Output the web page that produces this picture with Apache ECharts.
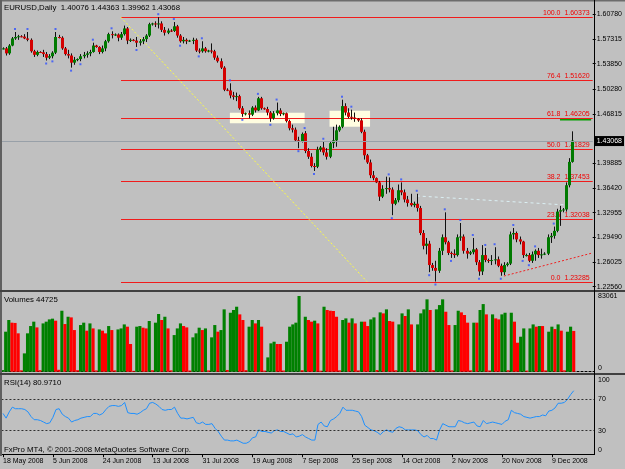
<!DOCTYPE html>
<html lang="en">
<head>
<meta charset="UTF-8">
<title>EURUSD,Daily</title>
<style>
  html, body { margin: 0; padding: 0; background: #c0c0c0; }
  #main { width: 625px; height: 469px; }
</style>
</head>
<body>
<div id="main"></div>
<script src="https://cdn.jsdelivr.net/npm/echarts@6/dist/echarts.min.js"></script>
<script>
const MONTHS = ['Jan','Feb','Mar','Apr','May','Jun','Jul','Aug','Sep','Oct','Nov','Dec'];

// one slot per broker day (Sun-Fri); the last six slots are the empty chart shift
const dates = [];
for (let d = new Date(Date.UTC(2008, 4, 18)); dates.length < 190; d.setUTCDate(d.getUTCDate() + 1)) {
  if (d.getUTCDay() !== 6) dates.push(d.getUTCDate() + ' ' + MONTHS[d.getUTCMonth()] + ' ' + d.getUTCFullYear());
}
const dateTicks = ['18 May 2008','5 Jun 2008','24 Jun 2008','13 Jul 2008','31 Jul 2008','19 Aug 2008',
  '7 Sep 2008','25 Sep 2008','14 Oct 2008','2 Nov 2008','20 Nov 2008','9 Dec 2008'];
const priceTicks = [1.60780,1.57315,1.53850,1.50280,1.46815,1.39885,1.36420,1.32955,1.29490,1.26025,1.22560];
const rsiTicks = [0, 30, 70, 100];
const rsiLevels = [70, 30];

// daily bars: open, high, low, close
const ohlc = [
[1.5590,1.5615,1.5585,1.5600],[1.5600,1.5620,1.5500,1.5530],[1.5530,1.5660,1.5510,1.5640],[1.5640,1.5760,1.5630,1.5740],
[1.5740,1.5830,1.5720,1.5760],[1.5760,1.5790,1.5720,1.5770],[1.5770,1.5785,1.5755,1.5765],[1.5765,1.5800,1.5730,1.5740],
[1.5740,1.5830,1.5700,1.5720],[1.5720,1.5740,1.5540,1.5560],[1.5560,1.5580,1.5480,1.5510],[1.5510,1.5570,1.5490,1.5550],
[1.5550,1.5560,1.5535,1.5545],[1.5545,1.5580,1.5480,1.5520],[1.5520,1.5550,1.5430,1.5470],[1.5470,1.5520,1.5450,1.5490],
[1.5490,1.5560,1.5460,1.5540],[1.5540,1.5830,1.5520,1.5760],[1.5760,1.5790,1.5740,1.5750],[1.5750,1.5770,1.5580,1.5600],
[1.5600,1.5620,1.5500,1.5520],[1.5520,1.5580,1.5460,1.5500],[1.5500,1.5530,1.5330,1.5400],[1.5400,1.5480,1.5370,1.5440],
[1.5440,1.5460,1.5420,1.5450],[1.5450,1.5520,1.5420,1.5490],[1.5490,1.5550,1.5460,1.5510],[1.5510,1.5560,1.5470,1.5530],
[1.5530,1.5580,1.5490,1.5550],[1.5550,1.5680,1.5540,1.5640],[1.5640,1.5650,1.5610,1.5620],[1.5620,1.5630,1.5520,1.5550],
[1.5550,1.5640,1.5530,1.5600],[1.5600,1.5720,1.5560,1.5700],[1.5700,1.5820,1.5680,1.5800],[1.5800,1.5840,1.5740,1.5790],
[1.5790,1.5810,1.5775,1.5795],[1.5795,1.5810,1.5700,1.5750],[1.5750,1.5830,1.5720,1.5800],[1.5800,1.5920,1.5780,1.5880],
[1.5880,1.5900,1.5660,1.5710],[1.5710,1.5740,1.5690,1.5720],[1.5720,1.5730,1.5700,1.5710],[1.5710,1.5760,1.5620,1.5680],
[1.5680,1.5730,1.5640,1.5700],[1.5700,1.5760,1.5660,1.5730],[1.5730,1.5800,1.5690,1.5780],[1.5780,1.5960,1.5760,1.5940],
[1.5940,1.5960,1.5920,1.5950],[1.5950,1.5980,1.5900,1.5940],[1.5940,1.6038,1.5880,1.5950],[1.5950,1.5980,1.5830,1.5860],
[1.5860,1.5900,1.5780,1.5820],[1.5820,1.5880,1.5800,1.5850],[1.5850,1.5870,1.5830,1.5845],[1.5845,1.5970,1.5830,1.5910],
[1.5910,1.5930,1.5750,1.5780],[1.5780,1.5800,1.5680,1.5700],[1.5700,1.5760,1.5670,1.5720],[1.5720,1.5740,1.5660,1.5700],
[1.5700,1.5720,1.5690,1.5710],[1.5710,1.5750,1.5660,1.5720],[1.5720,1.5740,1.5550,1.5570],[1.5570,1.5600,1.5530,1.5560],
[1.5560,1.5700,1.5540,1.5600],[1.5600,1.5620,1.5540,1.5560],[1.5560,1.5580,1.5545,1.5570],[1.5570,1.5670,1.5530,1.5560],
[1.5560,1.5580,1.5440,1.5470],[1.5470,1.5500,1.5400,1.5420],[1.5420,1.5460,1.5310,1.5330],[1.5330,1.5350,1.5000,1.5020],
[1.5020,1.5040,1.5000,1.5010],[1.5010,1.5110,1.4900,1.4940],[1.4940,1.4990,1.4880,1.4920],[1.4920,1.4980,1.4860,1.4930],
[1.4930,1.4950,1.4740,1.4760],[1.4760,1.4790,1.4640,1.4680],[1.4680,1.4700,1.4660,1.4690],[1.4690,1.4730,1.4620,1.4670],
[1.4670,1.4790,1.4650,1.4770],[1.4770,1.4800,1.4700,1.4730],[1.4730,1.4920,1.4720,1.4900],[1.4900,1.4920,1.4740,1.4760],
[1.4760,1.4770,1.4740,1.4750],[1.4750,1.4780,1.4660,1.4700],[1.4700,1.4720,1.4570,1.4620],[1.4620,1.4720,1.4600,1.4690],
[1.4690,1.4840,1.4660,1.4730],[1.4730,1.4760,1.4650,1.4680],[1.4680,1.4700,1.4660,1.4690],[1.4690,1.4700,1.4560,1.4580],
[1.4580,1.4600,1.4450,1.4480],[1.4480,1.4530,1.4420,1.4460],[1.4460,1.4490,1.4290,1.4310],[1.4310,1.4360,1.4200,1.4290],
[1.4290,1.4420,1.4280,1.4400],[1.4410,1.4440,1.4130,1.4160],[1.4160,1.4200,1.4050,1.4080],[1.4080,1.4130,1.3930,1.3950],
[1.3950,1.3990,1.3880,1.3940],[1.3940,1.4220,1.3920,1.4180],[1.4180,1.4230,1.4150,1.4210],[1.4210,1.4290,1.4100,1.4140],
[1.4140,1.4200,1.4040,1.4080],[1.4080,1.4300,1.4060,1.4270],[1.4270,1.4500,1.4200,1.4310],[1.4310,1.4530,1.4220,1.4450],
[1.4450,1.4520,1.4430,1.4500],[1.4500,1.4880,1.4480,1.4790],[1.4790,1.4830,1.4660,1.4700],[1.4700,1.4760,1.4620,1.4640],
[1.4640,1.4740,1.4600,1.4630],[1.4630,1.4700,1.4570,1.4610],[1.4610,1.4620,1.4570,1.4590],[1.4590,1.4620,1.4410,1.4430],
[1.4430,1.4460,1.4040,1.4100],[1.4100,1.4120,1.3980,1.4000],[1.4000,1.4040,1.3780,1.3820],[1.3820,1.3880,1.3750,1.3780],
[1.3780,1.3790,1.3710,1.3720],[1.3720,1.3740,1.3460,1.3520],[1.3520,1.3680,1.3500,1.3630],[1.3630,1.3800,1.3560,1.3640],
[1.3640,1.3790,1.3580,1.3620],[1.3620,1.3650,1.3260,1.3420],[1.3420,1.3500,1.3400,1.3470],[1.3470,1.3690,1.3440,1.3610],
[1.3610,1.3720,1.3540,1.3580],[1.3580,1.3620,1.3440,1.3480],[1.3480,1.3530,1.3380,1.3430],[1.3430,1.3560,1.3380,1.3400],
[1.3400,1.3450,1.3370,1.3420],[1.3420,1.3560,1.3310,1.3360],[1.3360,1.3390,1.2980,1.3010],[1.3010,1.3050,1.2780,1.2830],
[1.2830,1.2940,1.2710,1.2860],[1.2860,1.2900,1.2460,1.2560],[1.2560,1.2590,1.2480,1.2520],[1.2520,1.2620,1.2329,1.2480],
[1.2480,1.2800,1.2450,1.2760],[1.2760,1.2990,1.2700,1.2950],[1.2950,1.3300,1.2850,1.2880],[1.2880,1.2900,1.2700,1.2730],
[1.2730,1.2750,1.2660,1.2720],[1.2720,1.2780,1.2660,1.2700],[1.2700,1.2990,1.2680,1.2950],[1.2950,1.3150,1.2900,1.2960],
[1.2960,1.2990,1.2720,1.2760],[1.2760,1.2800,1.2650,1.2720],[1.2720,1.2760,1.2700,1.2740],[1.2740,1.2940,1.2710,1.2780],
[1.2780,1.2800,1.2560,1.2600],[1.2600,1.2630,1.2410,1.2470],[1.2470,1.2840,1.2420,1.2700],[1.2700,1.2800,1.2600,1.2630],
[1.2630,1.2650,1.2590,1.2620],[1.2620,1.2700,1.2560,1.2630],[1.2630,1.2810,1.2570,1.2640],[1.2640,1.2680,1.2530,1.2550],
[1.2550,1.2580,1.2410,1.2460],[1.2460,1.2600,1.2420,1.2560],[1.2560,1.2600,1.2540,1.2580],[1.2580,1.3030,1.2560,1.2990],
[1.2990,1.3080,1.2920,1.3010],[1.3010,1.3030,1.2880,1.2920],[1.2920,1.2960,1.2850,1.2890],[1.2890,1.2900,1.2660,1.2700],
[1.2700,1.2720,1.2680,1.2700],[1.2700,1.2730,1.2600,1.2620],[1.2620,1.2750,1.2590,1.2710],[1.2710,1.2780,1.2620,1.2760],
[1.2760,1.2800,1.2660,1.2700],[1.2700,1.2790,1.2650,1.2710],[1.2710,1.2740,1.2700,1.2720],[1.2720,1.2990,1.2700,1.2950],
[1.2950,1.3010,1.2870,1.2970],[1.2970,1.3100,1.2930,1.3040],[1.3040,1.3350,1.3020,1.3310],[1.3310,1.3390,1.3110,1.3330],
[1.3330,1.3360,1.3300,1.3340],[1.3340,1.3720,1.3310,1.3680],[1.3680,1.4060,1.3650,1.40076],[1.40076,1.44363,1.39962,1.43068]
];

const volumes = [
1800,43900,56700,53800,53500,42100, 1500,20100,42100,50100,54900,48600, 1700,53000,54900,57400,58200,56000,
2100,66900,52300,60300,59600,45700, 1600,51200,53800,45000,53000,47500, 1400,46400,45000,42100,50100,45700,
1500,46400,47500,51900,49400,30400, 900,49400,50100,48300,47500,55600, 1600,53800,63300,56700,60300,47500,
1500,40200,47500,53000,50100,48600, 1300,37700,42100,48300,45700,47500, 1400,37700,51200,43900,45700,68400,
1900,64700,67700,71300,62900,56700, 1700,49400,56700,53000,56700,49400, 1200,15700,31100,32900,30400,30400,
1300,32900,49400,51900,53800,83061, 1600,60300,56700,54900,56000,53000, 1100,71300,67700,66900,66600,60300,
1500,56700,58500,53800,58500,53000, 1400,54900,54900,50100,57400,59600, 1800,65100,64000,68400,55600,54900,
1600,51900,64000,61100,68400,51900, 1500,51900,64000,68400,79400,67700, 1700,68400,73100,79400,65800,51200,
1400,51200,66900,65100,62200,53800, 1500,53800,53800,67700,74200,62900, 1300,62900,58500,57400,62900,64700,
1600,64700,54900,31800,38400,47500, 1200,47500,51900,49400,50100,50100, 1400,43900,49400,46800,51900,45000,
1500,43900,49400,44725
];

const rsi = [
52,46,54,60,58,58,58,57,54,48,44,44,43,41,39,40,47,57,58,51,48,46,41,43,44,46,47,48,48,52,
52,50,52,57,61,62,62,61,62,66,53,52,52,51,53,56,58,65,66,64,61,57,56,57,57,60,52,46,46,45,
46,47,40,39,41,38,38,39,33,29,23,18,18,17,17,18,16,14,14,16,21,22,31,29,29,28,27,30,31,29,
29,27,25,26,22,23,25,22,20,18,18,38,41,36,35,43,45,48,52,60,56,56,56,55,54,48,37,34,31,30,
28,25,29,31,29,28,33,35,34,31,31,31,31,30,25,22,24,20,20,18,31,39,37,35,35,35,43,42,40,39,
40,41,36,35,43,39,40,41,40,39,38,42,44,56,53,52,51,48,47,46,47,48,48,50,49,55,56,59,65,65,
66,70,76,80.971
];

// fractal marks seen on the chart (bar indexes)
const fractalUp = [4,8,17,29,35,50,55,64,73,82,88,97,103,109,112,124,128,133,142,147,151,155,158,164,171,177];
const fractalDown = [14,16,22,25,43,57,63,77,86,95,100,125,137,139,144,153,160,167,169];

// Fibonacci retracement drawn from bar 38 to the right edge
const fibPct = ['100.0','76.4','61.8','50.0','38.2','23.6','0.0'];
const fibPrice = [1.60373,1.51620,1.46205,1.41829,1.37453,1.32038,1.23285];
const fibStartBar = 38;
// hand-drawn objects: [bar, price] pairs
const fibTrend = [[38, 1.60373], [117, 1.23285]];
const upperTrend = [[133, 1.3530], [181, 1.3403]];
const lowerTrend = [[161, 1.2406], [189, 1.2725]];
const greenLevel = [[179, 1.4598], [189, 1.4598]];
// rectangles: [fromBar, toBar, top, bottom]
const boxes = [[73, 97, 1.4697, 1.4549], [105, 118, 1.4725, 1.4500]];

const last = ohlc[ohlc.length - 1];
const maxVol = Math.max(...volumes);
const FONT = 'Liberation Sans';
const FIB_RED = '#f01c1c';
const txt = (size) => ({ fontSize: size, fontWeight: 'normal', color: '#000', fontFamily: FONT });

const myChart = echarts.init(document.getElementById('main'));

function renderCandle(params, api) {
  const i = api.value(0);
  const o = api.value(1), h = api.value(2), l = api.value(3), c = api.value(4);
  const cx = Math.round(api.coord([i, o])[0]);
  const yO = api.coord([i, o])[1], yC = api.coord([i, c])[1];
  const yH = api.coord([i, h])[1], yL = api.coord([i, l])[1];
  const top = Math.min(yO, yC);
  return {
    type: 'group',
    children: [
      { type: 'line', shape: { x1: cx + 0.5, y1: yH, x2: cx + 0.5, y2: yL }, style: { stroke: '#101010', lineWidth: 1 } },
      { type: 'rect', shape: { x: cx - 1, y: top, width: 3, height: Math.max(Math.abs(yC - yO), 1) },
        style: { fill: c >= o ? '#007a00' : '#d40000' } }
    ]
  };
}

// a fib level: crisp horizontal ray from its start bar to the price scale, label on top at the right
function renderFib(params, api) {
  const k = api.value(2);
  const pt = api.coord([api.value(0), api.value(1)]);
  const cs = params.coordSys;
  const y = Math.round(pt[1]) + 0.5;
  const right = cs.x + cs.width;
  return {
    type: 'group',
    children: [
      { type: 'line', shape: { x1: Math.round(pt[0]), y1: y, x2: right, y2: y }, style: { stroke: FIB_RED, lineWidth: 1 } },
      { type: 'text', x: right - 3, y: y - 1,
        style: { text: fibPct[k] + '  ' + api.value(1).toFixed(5), align: 'right', verticalAlign: 'bottom',
                 fill: '#f00000', fontSize: 7, fontFamily: FONT } }
    ]
  };
}

const option = {
  animation: false,
  backgroundColor: '#c0c0c0',
  textStyle: { fontFamily: FONT },
  title: [
    { text: 'EURUSD,Daily  ' + last.map(v => v.toFixed(5)).join(' '), left: 4, top: 3.5, padding: 0, textStyle: txt(7.8) },
    { text: 'Volumes ' + volumes[volumes.length - 1], left: 4, top: 296, padding: 0, textStyle: txt(7.8) },
    { text: 'RSI(14) ' + rsi[rsi.length - 1].toFixed(4), left: 4, top: 379, padding: 0, textStyle: txt(7.8) },
    { text: 'FxPro MT4, \u00a9 2001-2008 MetaQuotes Software Corp.', left: 4, top: 446, padding: 0, textStyle: txt(7.8) }
  ],
  grid: [
    { left: 1, right: 31, top: 3, height: 286 },
    { left: 1, right: 31, top: 292, height: 79.7 },
    { left: 1, right: 31, top: 375, height: 80 }
  ],
  xAxis: [
    { type: 'category', gridIndex: 0, data: dates, boundaryGap: true, show: false },
    { type: 'category', gridIndex: 1, data: dates, boundaryGap: true,
      axisLine: { show: true, lineStyle: { color: '#000', width: 1, type: [2, 2] } },
      axisTick: { show: false }, axisLabel: { show: false } },
    { type: 'category', gridIndex: 2, data: dates, boundaryGap: true,
      axisLine: { show: true, lineStyle: { color: '#000', width: 1 } },
      axisTick: { show: true, alignWithLabel: true, length: 3, lineStyle: { color: '#000' },
                  interval: (idx, val) => dateTicks.includes(val) },
      axisLabel: { interval: (idx, val) => dateTicks.includes(val), align: 'left', margin: 3,
                   fontSize: 7, color: '#000', fontFamily: FONT } }
  ],
  yAxis: [
    { type: 'value', gridIndex: 0, position: 'right', min: 1.2224, max: 1.6237,
      splitLine: { show: false }, axisLine: { show: false },
      axisTick: { show: true, customValues: priceTicks, length: 3, lineStyle: { color: '#000' } },
      axisLabel: { customValues: priceTicks, formatter: v => v.toFixed(5), margin: 4,
                   fontSize: 7, color: '#000', fontFamily: FONT } },
    { type: 'value', gridIndex: 1, position: 'right', min: 0, max: 87450,
      splitLine: { show: false }, axisLine: { show: false }, axisTick: { show: false },
      axisLabel: { customValues: [0, maxVol], margin: 4, fontSize: 7, color: '#000', fontFamily: FONT,
                   formatter: v => v === 0 ? '{b|0}' : String(v),
                   rich: { b: { fontSize: 7, fontFamily: FONT, color: '#000', padding: [0, 0, 8, 0] } } } },
    { type: 'value', gridIndex: 2, position: 'right', min: -1, max: 101,
      splitLine: { show: false }, axisLine: { show: false }, axisTick: { show: false },
      axisLabel: { customValues: rsiTicks, margin: 4, fontSize: 7, color: '#000', fontFamily: FONT,
                   formatter: v => v === 100 ? '{t|100}' : v === 0 ? '{b|0}' : String(v),
                   rich: { t: { fontSize: 7, fontFamily: FONT, color: '#000', padding: [8, 0, 0, 0] },
                           b: { fontSize: 7, fontFamily: FONT, color: '#000', padding: [0, 0, 8, 0] } } } }
  ],
  series: [
    {
      // fib levels
      type: 'custom', xAxisIndex: 0, yAxisIndex: 0, z: 1, silent: true, clip: false,
      data: fibPrice.map((p, k) => [fibStartBar, p, k]),
      encode: { x: 0, y: 1 },
      renderItem: renderFib
    },
    {
      // bid line with its price box, rectangles behind the candles
      type: 'line', xAxisIndex: 0, yAxisIndex: 0, z: 2, silent: true, symbol: 'none',
      data: upperTrend,
      lineStyle: { color: '#dcf0f4', width: 1, type: [3, 3] },
      markLine: {
        symbol: 'none', silent: true, animation: false,
        data: [{
          yAxis: last[3],
          lineStyle: { color: '#98a0a8', width: 1, type: 'solid' },
          label: { show: true, position: 'end', distance: 2, formatter: last[3].toFixed(5),
                   backgroundColor: '#000', color: '#fff', padding: [2, 2, 1, 2], fontSize: 7, fontFamily: FONT }
        }]
      },
      markArea: {
        silent: true,
        itemStyle: { color: '#fffde0', opacity: 1 },
        data: boxes.map(b => [{ coord: [b[0], b[2]] }, { coord: [b[1], b[3]] }])
      }
    },
    {
      type: 'line', xAxisIndex: 0, yAxisIndex: 0, z: 2, silent: true, symbol: 'none',
      data: fibTrend,
      lineStyle: { color: '#ffff40', width: 1, type: [2, 2] }
    },
    {
      type: 'line', xAxisIndex: 0, yAxisIndex: 0, z: 2, silent: true, symbol: 'none',
      data: lowerTrend,
      lineStyle: { color: '#f02020', width: 1, type: [2, 2] }
    },
    {
      type: 'line', xAxisIndex: 0, yAxisIndex: 0, z: 2, silent: true, symbol: 'none',
      data: greenLevel,
      lineStyle: { color: '#00a000', width: 1.5 }
    },
    {
      type: 'custom', xAxisIndex: 0, yAxisIndex: 0, z: 3, silent: true,
      data: ohlc.map((r, i) => [i, r[0], r[1], r[2], r[3]]),
      encode: { x: 0, y: [1, 2, 3, 4] },
      renderItem: renderCandle
    },
    {
      type: 'scatter', xAxisIndex: 0, yAxisIndex: 0, z: 4, silent: true,
      symbol: 'rect', symbolSize: 2, symbolOffset: [0, -3],
      itemStyle: { color: '#3050ff' },
      data: fractalUp.map(i => [i, ohlc[i][1]])
    },
    {
      type: 'scatter', xAxisIndex: 0, yAxisIndex: 0, z: 4, silent: true,
      symbol: 'rect', symbolSize: 2, symbolOffset: [0, 3],
      itemStyle: { color: '#3050ff' },
      data: fractalDown.map(i => [i, ohlc[i][2]])
    },
    {
      type: 'bar', xAxisIndex: 1, yAxisIndex: 1, silent: true,
      barCategoryGap: '0%',
      data: volumes.map((v, i) => ({
        value: v,
        itemStyle: { color: i > 0 && v <= volumes[i - 1] ? '#ff0000' : '#008000' }
      }))
    },
    {
      type: 'line', xAxisIndex: 2, yAxisIndex: 2, silent: true, symbol: 'none',
      data: rsi,
      lineStyle: { color: '#1e90ff', width: 1 },
      markLine: {
        symbol: 'none', silent: true, label: { show: false },
        lineStyle: { color: '#303030', width: 1, type: [2, 2] },
        data: rsiLevels.map(v => ({ yAxis: v }))
      }
    }
  ],
  graphic: [
    { type: 'rect', silent: true, z: 100, shape: { x: 0, y: 0, width: 625, height: 1.5 }, style: { fill: '#6c6c6c' } },
    { type: 'rect', silent: true, z: 100, shape: { x: 0, y: 0, width: 2, height: 456 }, style: { fill: '#606060' } },
    { type: 'rect', silent: true, z: 100, shape: { x: 0, y: 290, width: 625, height: 2 }, style: { fill: '#404040' } },
    { type: 'rect', silent: true, z: 100, shape: { x: 0, y: 373, width: 625, height: 2 }, style: { fill: '#404040' } },
    { type: 'line', silent: true, z: 100, shape: { x1: 594.5, y1: 0, x2: 594.5, y2: 455 }, style: { stroke: '#000', lineWidth: 1 } }
  ]
};

myChart.setOption(option);
</script>
</body>
</html>
